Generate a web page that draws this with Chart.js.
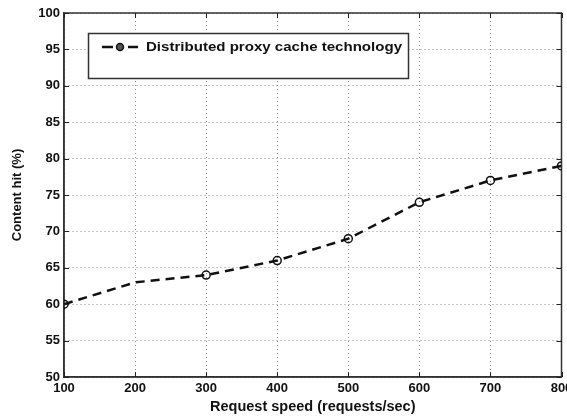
<!DOCTYPE html>
<html>
<head>
<meta charset="utf-8">
<script src="https://cdn.jsdelivr.net/npm/chart.js@4/dist/chart.umd.min.js"></script>
<style>
  html, body { margin: 0; padding: 0; background: #fff; }
  #wrap { width: 567px; height: 416px; }
</style>
</head>
<body>
<div id="wrap"><canvas id="chart" width="567" height="416"></canvas></div>
<script>
// Data
const requestSpeed = [100, 200, 300, 400, 500, 600, 700, 800];
const contentHit = [60, 63, 64, 66, 69, 74, 77, 79];
const seriesName = "Distributed proxy cache technology";
const xTitle = "Request speed (requests/sec)";
const yTitle = "Content hit (%)";

const FONT = "'Liberation Sans', Arial, sans-serif";

// MATLAB-style legend box and inward tick marks
const matlabLook = {
    id: "matlabLook",
    afterDraw(chart) {
        const ctx = chart.ctx;
        const a = chart.chartArea;
        const xs = chart.scales.x, ys = chart.scales.y;

        ctx.save();
        ctx.strokeStyle = "#222";
        ctx.lineWidth = 1;
        ctx.setLineDash([]);
        xs.ticks.forEach(t => {
            const px = Math.round(xs.getPixelForValue(t.value)) + 0.5;
            ctx.beginPath();
            ctx.moveTo(px, a.bottom); ctx.lineTo(px, a.bottom - 5);
            ctx.moveTo(px, a.top); ctx.lineTo(px, a.top + 5);
            ctx.stroke();
        });
        ys.ticks.forEach(t => {
            const py = Math.round(ys.getPixelForValue(t.value)) + 0.5;
            ctx.beginPath();
            ctx.moveTo(a.left, py); ctx.lineTo(a.left + 5, py);
            ctx.moveTo(a.right, py); ctx.lineTo(a.right - 5, py);
            ctx.stroke();
        });

        // legend
        const lx = a.left + 24, ly = a.top + 20, lw = 320, lh = 45;
        ctx.fillStyle = "#fff";
        ctx.fillRect(lx, ly, lw, lh);
        ctx.strokeStyle = "#333";
        ctx.lineWidth = 1.5;
        ctx.strokeRect(lx + 0.5, ly + 0.5, lw, lh);

        const sy = ly + 14;
        ctx.strokeStyle = "#111";
        ctx.lineWidth = 2.5;
        ctx.beginPath();
        ctx.moveTo(lx + 14, sy); ctx.lineTo(lx + 25, sy);
        ctx.moveTo(lx + 40, sy); ctx.lineTo(lx + 50, sy);
        ctx.stroke();
        ctx.lineWidth = 1.5;
        ctx.beginPath();
        ctx.arc(lx + 32, sy, 3.5, 0, Math.PI * 2);
        ctx.fillStyle = "#555";
        ctx.fill();
        ctx.stroke();

        // text stretched to the width it has in the figure
        ctx.fillStyle = "#111";
        ctx.font = "bold 13px " + FONT;
        ctx.textBaseline = "middle";
        const tw = ctx.measureText(seriesName).width;
        ctx.translate(lx + 58, sy);
        ctx.scale(256 / tw, 1);
        ctx.fillText(seriesName, 0, 0);
        ctx.restore();
    }
};

new Chart(document.getElementById("chart"), {
    type: "line",
    data: {
        datasets: [{
            label: seriesName,
            data: requestSpeed.map((x, i) => ({ x: x, y: contentHit[i] })),
            borderColor: "#111",
            borderWidth: 2.5,
            borderDash: [9, 6],
            pointRadius: [4, 0, 4, 4, 4, 4, 4, 4],
            pointBorderWidth: 1.5,
            pointBackgroundColor: "rgba(255,255,255,0)",
            pointBorderColor: "#111",
            tension: 0
        }]
    },
    options: {
        responsive: false,
        animation: false,
        layout: { padding: { left: 10, right: 0, top: 13, bottom: 0 } },
        plugins: {
            legend: { display: false },
            tooltip: { enabled: false }
        },
        scales: {
            x: {
                type: "linear",
                min: 100, max: 800,
                ticks: { stepSize: 100, color: "#111", font: { family: FONT, size: 13, weight: "bold" }, padding: 4 },
                grid: { color: "#8a8a8a", drawTicks: false },
                border: { display: true, color: "#333", width: 1.5, dash: [1, 3] },
                title: { display: true, text: xTitle, color: "#111", font: { family: FONT, size: 14.5, weight: "bold" }, padding: { top: 1, bottom: 0 } },
                afterFit(s) { s.height = 39; s.paddingLeft = 0; s.paddingRight = 0; }
            },
            y: {
                min: 50, max: 100,
                ticks: { stepSize: 5, color: "#111", font: { family: FONT, size: 13, weight: "bold" }, padding: 4 },
                grid: { color: "#8a8a8a", drawTicks: false },
                border: { display: true, color: "#333", width: 1.5, dash: [1, 3] },
                title: { display: true, text: yTitle, color: "#111", font: { family: FONT, size: 13, weight: "bold" }, padding: { top: 0, bottom: 6 } },
                afterFit(s) { s.width = 54; s.paddingTop = 0; s.paddingBottom = 0; }
            }
        }
    },
    plugins: [matlabLook, {
        id: "frame",
        beforeDatasetsDraw(chart) {
            const ctx = chart.ctx, a = chart.chartArea;
            ctx.save();
            ctx.strokeStyle = "#333";
            ctx.lineWidth = 1.5;
            ctx.strokeRect(a.left, a.top, a.right - a.left, a.bottom - a.top);
            ctx.restore();
        }
    }]
});
</script>
</body>
</html>
